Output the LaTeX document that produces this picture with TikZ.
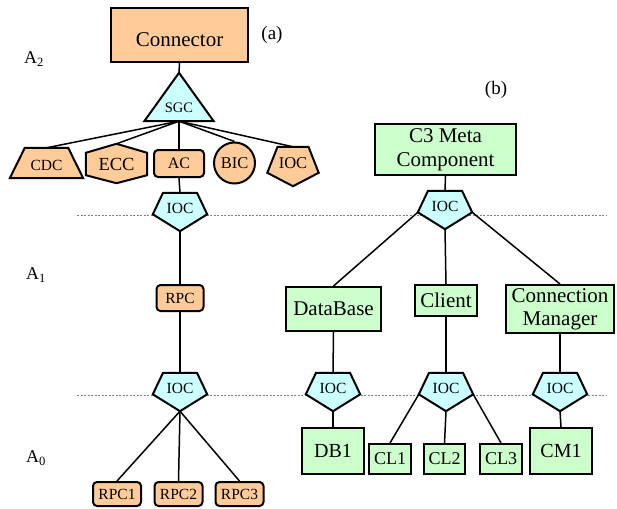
\documentclass[tikz,border=0pt]{standalone}
\usepackage{fontspec}
\setmainfont{Liberation Serif}
\usetikzlibrary{positioning,calc,backgrounds}
\definecolor{peach}{HTML}{FFCC99}
\definecolor{aqua}{HTML}{CCFFFF}
\definecolor{mint}{HTML}{CCFFCC}

\begin{document}
\begin{tikzpicture}[x=1pt, y=-1pt,
	lnk/.style={line width=1.5pt},
	shp/.style={draw, line width=2pt},
	obox/.style={shp, fill=peach, rounded corners=4pt, inner sep=0pt},
	gbox/.style={shp, fill=mint, inner sep=0pt, align=center},
	pentc/.style={inner sep=0pt, minimum width=54pt, text height=20pt, text depth=18pt, font=\fontsize{15.5}{18}\selectfont},
	gridline/.style={gray, line width=0.7pt, dash pattern=on 2pt off 1.5pt},
	lvl/.style={font=\fontsize{18}{20}\selectfont}]
	\useasboundingbox (0,0) rectangle (617,508);

	% levels
	\node[lvl] (la2) at (34,59) {A\textsubscript{2}};
	\node[lvl] (la1) at (36,275) {A\textsubscript{1}};
	\node[lvl] (la0) at (36,458) {A\textsubscript{0}};
	\node[font=\fontsize{19}{22}\selectfont] (tga) at (272,35) {(a)};
	\node[font=\fontsize{19}{22}\selectfont] (tgb) at (496,90) {(b)};

	% (a) connector
	\node[obox, sharp corners, minimum width=137pt, minimum height=54pt, text height=24pt, text depth=0pt, font=\fontsize{21}{24}\selectfont] (conn) at (179.5,35) {Connector};
	\node[inner sep=0pt, minimum width=69pt, text height=39pt, text depth=9pt, font=\fontsize{14.5}{17}\selectfont] (sgc) at (179,97) {SGC};
	\node[inner sep=0pt, minimum width=73pt, text height=22pt, text depth=8pt, font=\fontsize{15.5}{18}\selectfont] (cdc) at (46.5,163) {CDC};
	\node[inner sep=0pt, minimum width=61pt, text height=26pt, text depth=13pt, font=\fontsize{18.5}{21}\selectfont] (ecc) at (116.5,163.5) {ECC};
	\node[obox, minimum width=50pt, minimum height=27pt, font=\fontsize{16}{19}\selectfont] (ac) at (179,163.5) {AC};
	\node[shp, circle, fill=peach, inner sep=0pt, minimum size=41pt, font=\fontsize{16.5}{19}\selectfont] (bic) at (234.5,163) {BIC};
	\node[inner sep=0pt, minimum width=51pt, text height=21pt, text depth=18pt, font=\fontsize{16.5}{19}\selectfont] (iocor) at (293,166.5) {IOC};
	\node[pentc] (ioca1) at (180,212) {IOC};
	\node[obox, minimum width=47pt, minimum height=26pt, font=\fontsize{15.5}{18}\selectfont] (rpc) at (180,298) {RPC};
	\node[pentc] (ioca2) at (180,392) {IOC};
	\node[obox, minimum width=48pt, minimum height=24pt, font=\fontsize{15.5}{18}\selectfont] (rpc1) at (117,494) {RPC1};
	\node[obox, minimum width=48pt, minimum height=24pt, font=\fontsize{15.5}{18}\selectfont] (rpc2) at (178.5,494) {RPC2};
	\node[obox, minimum width=48pt, minimum height=24pt, font=\fontsize{15.5}{18}\selectfont] (rpc3) at (239.5,494) {RPC3};

	% (b) meta component
	\node[gbox, minimum width=141pt, minimum height=51pt, font=\fontsize{21}{24}\selectfont] (c3) at (445.5,149.5) {C3 Meta\\Component};
	\node[pentc] (iocb0) at (445,210) {IOC};
	\node[gbox, minimum width=95pt, minimum height=44pt, font=\fontsize{21}{24}\selectfont] (db) at (333.5,309) {DataBase};
	\node[gbox, minimum width=62pt, minimum height=31pt, font=\fontsize{21}{24}\selectfont] (client) at (446,300.5) {Client};
	\node[gbox, minimum width=108pt, minimum height=48pt, font=\fontsize{21}{23}\selectfont] (cm) at (560,309) {Connection\\Manager};
	\node[pentc] (iocdb) at (333,392) {IOC};
	\node[pentc] (ioccl) at (446,392) {IOC};
	\node[pentc] (ioccm) at (560,392) {IOC};
	\node[gbox, minimum width=62pt, minimum height=46pt, font=\fontsize{20}{23}\selectfont] (db1) at (333,451) {DB1};
	\node[gbox, minimum width=42pt, minimum height=30pt, font=\fontsize{18}{21}\selectfont] (cl1) at (390,459) {CL1};
	\node[gbox, minimum width=41pt, minimum height=30pt, font=\fontsize{18}{21}\selectfont] (cl2) at (444.5,459) {CL2};
	\node[gbox, minimum width=42pt, minimum height=30pt, font=\fontsize{18}{21}\selectfont] (cl3) at (501,459) {CL3};
	\node[gbox, minimum width=62pt, minimum height=46pt, font=\fontsize{20}{23}\selectfont] (cm1) at (561,451) {CM1};

	% shapes behind the texts
	\begin{scope}[on background layer]
		\draw[gridline] (77,215) -- (607,215);
		\draw[gridline] (77,395) -- (607,395);
		\draw[shp, fill=aqua] (sgc.north) -- (sgc.south east) -- (sgc.south west) -- cycle;
		\draw[shp, fill=peach] ($(cdc.north west)+(15,0)$) -- ($(cdc.north east)+(-15,0)$) -- (cdc.south east) -- (cdc.south west) -- cycle;
		\draw[shp, fill=peach] (ecc.north) -- ($(ecc.north east)+(0,9)$) -- ($(ecc.south east)+(0,-8)$) -- (ecc.south) -- ($(ecc.south west)+(0,-8)$) -- ($(ecc.north west)+(0,9)$) -- cycle;
		\draw[shp, fill=peach] ($(iocor.north)+(-15.5,0)$) -- ($(iocor.north)+(15.5,0)$) -- ($(iocor.north east)+(0,26)$) -- (iocor.south) -- ($(iocor.north west)+(0,26)$) -- cycle;
		\foreach \n in {ioca1,ioca2,iocb0,iocdb,ioccl,ioccm} {
			\coordinate (\n-l) at ($(\n.north west)+(0,21.5)$);
			\coordinate (\n-r) at ($(\n.north east)+(0,21.5)$);
			\draw[shp, fill=aqua] ($(\n.north)+(-17,0)$) -- ($(\n.north)+(17,0)$) -- (\n-r) -- (\n.south) -- (\n-l) -- cycle;
		}
	\end{scope}

	% links (a)
	\draw[lnk] (conn.south) -- (sgc.north);
	\foreach \k in {cdc,ecc,ac,bic,iocor}
		\draw[lnk] (sgc.south) -- (\k.north);
	\draw[lnk] (ac.south) -- (ioca1.north);
	\draw[lnk] (ioca1.south) -- (rpc.north);
	\draw[lnk] (rpc.south) -- (ioca2.north);
	\foreach \k in {rpc1,rpc2,rpc3}
		\draw[lnk] (ioca2.south) -- (\k.north);

	% links (b)
	\draw[lnk] (c3.south) -- (iocb0.north);
	\draw[lnk] (iocb0-l) -- (db.north);
	\draw[lnk] (iocb0.south) -- (client.north);
	\draw[lnk] (iocb0-r) -- (cm.north);
	\draw[lnk] (db.south) -- (iocdb.north);
	\draw[lnk] (iocdb.south) -- (db1.north);
	\draw[lnk] (client.south) -- (ioccl.north);
	\draw[lnk] (ioccl-l) -- (cl1.north);
	\draw[lnk] (ioccl.south) -- (cl2.north);
	\draw[lnk] (ioccl-r) -- (cl3.north);
	\draw[lnk] (cm.south) -- (ioccm.north);
	\draw[lnk] (ioccm.south) -- (cm1.north);
\end{tikzpicture}
\end{document}
